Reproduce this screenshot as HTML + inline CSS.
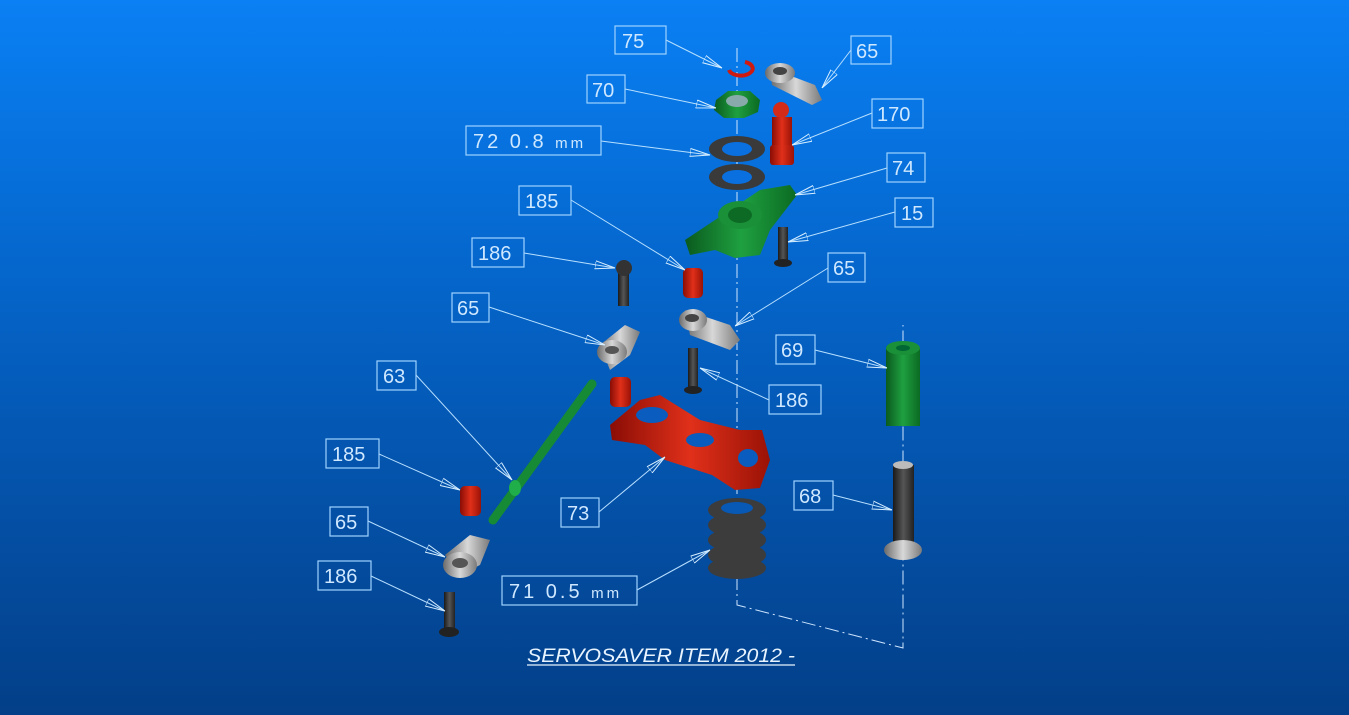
<!DOCTYPE html>
<html><head><meta charset="utf-8"><style>
html,body{margin:0;padding:0;width:1349px;height:715px;overflow:hidden;}
body{background:linear-gradient(180deg,#0a80f4 0%,#0568cf 35%,#0451a8 70%,#033f88 100%);}
svg{position:absolute;left:0;top:0}
.b{fill:none;stroke:#9fd3ff;stroke-width:1.2}
.t{fill:#cfe8ff;font-family:"Liberation Sans",sans-serif;font-size:20px}
.l{stroke:#b8e0ff;stroke-width:1;fill:none}
</style></head><body>
<svg width="1349" height="715" viewBox="0 0 1349 715">
<defs>
<linearGradient id="gr" x1="0" x2="1"><stop offset="0" stop-color="#0a5a1e"/><stop offset=".5" stop-color="#1fa040"/><stop offset="1" stop-color="#0b6a22"/></linearGradient>
<linearGradient id="rd" x1="0" x2="1"><stop offset="0" stop-color="#8a0d05"/><stop offset=".5" stop-color="#e0301a"/><stop offset="1" stop-color="#9a1206"/></linearGradient>
<linearGradient id="sv" x1="0" x2="1"><stop offset="0" stop-color="#6a6a6a"/><stop offset=".5" stop-color="#d8d8d8"/><stop offset="1" stop-color="#7a7a7a"/></linearGradient>
<linearGradient id="dk" x1="0" x2="1"><stop offset="0" stop-color="#1a1a1a"/><stop offset=".5" stop-color="#555"/><stop offset="1" stop-color="#222"/></linearGradient>
<marker id="ar" viewBox="0 0 20 10" refX="20" refY="5" markerWidth="20" markerHeight="10" markerUnits="userSpaceOnUse" orient="auto"><path d="M0 1 L20 5 L0 9 Z" fill="none" stroke="#d8efff" stroke-width="1"/></marker>
</defs>
<path d="M737 48 V605 L903 648 V325" stroke="#cfe6ff" stroke-width="1" fill="none" stroke-dasharray="14 4 2 4"/>

<path d="M729 70 a12 7 0 1 0 16 -8" stroke="#d01a10" stroke-width="4" fill="none"/>
<path d="M770 68 L815 85 L822 100 L812 105 L772 85 Z" fill="url(#sv)"/>
<ellipse cx="780" cy="73" rx="15" ry="10" fill="url(#sv)"/><ellipse cx="780" cy="71" rx="7" ry="4" fill="#444"/>
<polygon points="716,100 728,91 750,91 760,100 758,112 744,118 724,118 714,110" fill="url(#gr)"/><ellipse cx="737" cy="101" rx="11" ry="6" fill="#8aa"/>
<circle cx="781" cy="110" r="8" fill="#d42a18"/><rect x="772" y="117" width="20" height="30" fill="url(#rd)"/><rect x="770" y="145" width="24" height="20" rx="3" fill="url(#rd)"/>
<ellipse cx="737" cy="149" rx="28" ry="13" fill="#3a3a3a"/><ellipse cx="737" cy="149" rx="15" ry="7" fill="#0a70e0"/>
<ellipse cx="737" cy="177" rx="28" ry="13" fill="#3a3a3a"/><ellipse cx="737" cy="177" rx="15" ry="7" fill="#0a70e0"/>
<path d="M685 240 L760 190 L790 185 L797 195 L770 230 L760 255 L735 258 L715 250 L690 255 Z" fill="url(#gr)"/>
<ellipse cx="740" cy="215" rx="22" ry="14" fill="#1a9038"/><ellipse cx="740" cy="215" rx="12" ry="8" fill="#0d6a25"/>
<rect x="778" y="227" width="10" height="33" fill="url(#dk)"/><ellipse cx="783" cy="263" rx="9" ry="4" fill="#222"/>
<rect x="618" y="268" width="11" height="38" fill="url(#dk)"/><circle cx="624" cy="268" r="8" fill="#333"/>
<rect x="688" y="348" width="10" height="40" fill="url(#dk)"/><ellipse cx="693" cy="390" rx="9" ry="4" fill="#222"/>
<rect x="444" y="592" width="11" height="40" fill="url(#dk)"/><ellipse cx="449" cy="632" rx="10" ry="5" fill="#222"/>
<rect x="683" y="268" width="20" height="30" rx="5" fill="url(#rd)"/>
<rect x="610" y="377" width="21" height="30" rx="5" fill="url(#rd)"/>
<rect x="460" y="486" width="21" height="30" rx="5" fill="url(#rd)"/>
<path d="M685 310 L730 325 L740 340 L730 350 L690 335 Z" fill="url(#sv)"/><ellipse cx="693" cy="320" rx="14" ry="11" fill="url(#sv)"/><ellipse cx="692" cy="318" rx="7" ry="4" fill="#444"/>
<path d="M600 345 L625 325 L640 332 L630 355 L610 370 Z" fill="url(#sv)"/><ellipse cx="612" cy="352" rx="15" ry="12" fill="url(#sv)"/><ellipse cx="612" cy="350" rx="7" ry="4" fill="#555"/>
<path d="M445 555 L470 535 L490 540 L480 565 L460 575 Z" fill="url(#sv)"/><ellipse cx="460" cy="565" rx="17" ry="13" fill="url(#sv)"/><ellipse cx="460" cy="563" rx="8" ry="5" fill="#555"/>
<line x1="493" y1="520" x2="592" y2="384" stroke="#168a35" stroke-width="9" stroke-linecap="round"/>
<ellipse cx="515" cy="488" rx="6" ry="8" fill="#1fae4a"/>
<path d="M610 425 L640 400 L660 395 L700 420 L740 430 L762 430 L770 460 L760 488 L735 490 L712 475 L665 460 L645 445 L612 440 Z" fill="url(#rd)"/>
<ellipse cx="652" cy="415" rx="16" ry="8" fill="#0a5cbe"/><ellipse cx="700" cy="440" rx="14" ry="7" fill="#0a5cbe"/><ellipse cx="748" cy="458" rx="10" ry="9" fill="#0a5cbe"/>
<g fill="#3c3c3c"><ellipse cx="737" cy="510" rx="29" ry="12"/><ellipse cx="737" cy="525" rx="29" ry="12"/><ellipse cx="737" cy="540" rx="29" ry="12"/><ellipse cx="737" cy="555" rx="29" ry="12"/><ellipse cx="737" cy="568" rx="29" ry="11"/></g>
<ellipse cx="737" cy="508" rx="16" ry="6" fill="#0858b5"/>
<rect x="886" y="348" width="34" height="78" fill="url(#gr)"/><ellipse cx="903" cy="348" rx="17" ry="7" fill="#1a9038"/><ellipse cx="903" cy="348" rx="7" ry="3" fill="#063"/>
<rect x="893" y="465" width="21" height="78" fill="url(#dk)"/><ellipse cx="903" cy="465" rx="10" ry="4" fill="#bbb"/><ellipse cx="903" cy="550" rx="19" ry="10" fill="url(#sv)"/>

<g class="l" marker-end="url(#ar)">
<line x1="666" y1="40" x2="722" y2="68"/><line x1="851" y1="50" x2="822" y2="88"/>
<line x1="625" y1="89" x2="716" y2="108"/><line x1="872" y1="113" x2="792" y2="145"/>
<line x1="601" y1="141" x2="710" y2="155"/><line x1="887" y1="168" x2="795" y2="195"/>
<line x1="571" y1="200" x2="685" y2="270"/><line x1="895" y1="212" x2="788" y2="242"/>
<line x1="524" y1="253" x2="615" y2="268"/><line x1="828" y1="268" x2="735" y2="326"/>
<line x1="489" y1="307" x2="605" y2="345"/><line x1="815" y1="350" x2="887" y2="368"/>
<line x1="416" y1="375" x2="512" y2="480"/><line x1="769" y1="400" x2="700" y2="368"/>
<line x1="379" y1="454" x2="460" y2="490"/><line x1="599" y1="512" x2="665" y2="457"/>
<line x1="833" y1="495" x2="892" y2="510"/><line x1="368" y1="521" x2="445" y2="557"/>
<line x1="371" y1="576" x2="445" y2="611"/><line x1="637" y1="590" x2="710" y2="550"/>
</g>

<g class="b">
<rect x="615" y="26" width="51" height="28"/><rect x="851" y="36" width="40" height="28"/>
<rect x="587" y="75" width="38" height="28"/><rect x="872" y="99" width="51" height="29"/>
<rect x="466" y="126" width="135" height="29"/><rect x="887" y="153" width="38" height="29"/>
<rect x="519" y="186" width="52" height="29"/><rect x="895" y="198" width="38" height="29"/>
<rect x="472" y="238" width="52" height="29"/><rect x="828" y="253" width="37" height="29"/>
<rect x="452" y="293" width="37" height="29"/><rect x="776" y="335" width="39" height="29"/>
<rect x="377" y="361" width="39" height="29"/><rect x="769" y="385" width="52" height="29"/>
<rect x="326" y="439" width="53" height="29"/><rect x="561" y="498" width="38" height="29"/>
<rect x="794" y="481" width="39" height="29"/><rect x="330" y="507" width="38" height="29"/>
<rect x="318" y="561" width="53" height="29"/><rect x="502" y="576" width="135" height="29"/>
</g>
<g class="t">
<text x="622" y="48">75</text><text x="856" y="58">65</text>
<text x="592" y="97">70</text><text x="877" y="121">170</text>
<text x="473" y="148" letter-spacing="3">72 0.8 <tspan font-size="15">mm</tspan></text><text x="892" y="175">74</text>
<text x="525" y="208">185</text><text x="901" y="220">15</text>
<text x="478" y="260">186</text><text x="833" y="275">65</text>
<text x="457" y="315">65</text><text x="781" y="357">69</text>
<text x="383" y="383">63</text><text x="775" y="407">186</text>
<text x="332" y="461">185</text><text x="567" y="520">73</text>
<text x="799" y="503">68</text><text x="335" y="529">65</text>
<text x="324" y="583">186</text>
<text x="509" y="598" letter-spacing="3">71 0.5 <tspan font-size="15">mm</tspan></text>
</g>
<text x="527" y="662" fill="#e8f4ff" font-family="Liberation Sans,sans-serif" font-size="19" font-style="italic" textLength="268" lengthAdjust="spacingAndGlyphs">SERVOSAVER ITEM 2012 -</text>
<line x1="527" y1="665" x2="795" y2="665" stroke="#e8f4ff" stroke-width="1.2"/>
</svg>
</body></html>
